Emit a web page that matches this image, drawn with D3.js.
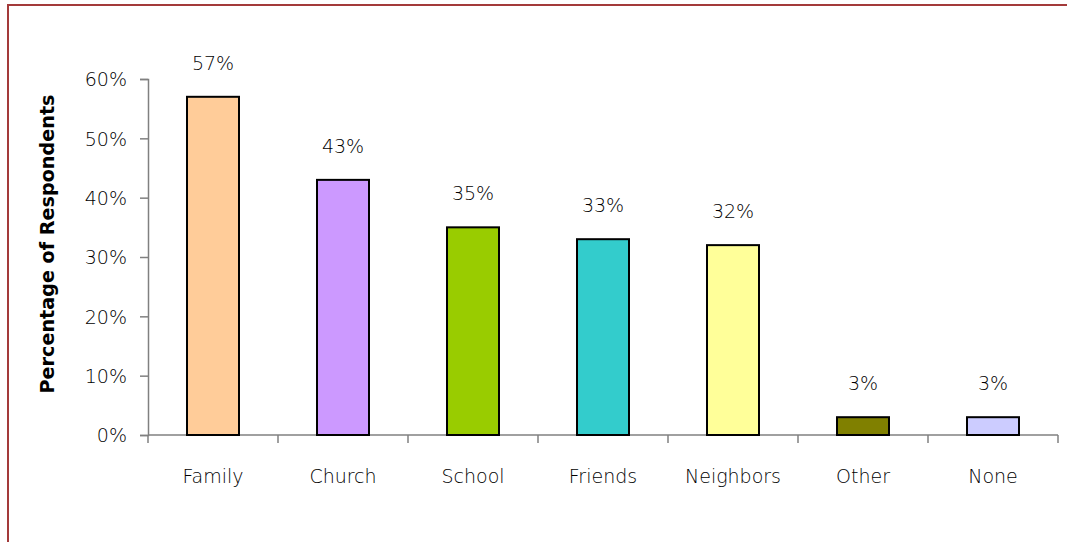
<!DOCTYPE html>
<html><head><meta charset="utf-8">
<script src="https://cdn.jsdelivr.net/npm/d3@7"></script>
<style>body{margin:0;background:#fff}svg{display:block}text{font-family:"DejaVu Sans",sans-serif;fill:#000}</style>
</head><body>
<svg id="c" width="1067" height="542"></svg>
<script>
const categories = ["Family","Church","School","Friends","Neighbors","Other","None"];
const values = [57,43,35,33,32,3,3];
const colors = ["#FFCC99","#CC99FF","#99CC00","#33CCCC","#FFFF99","#808000","#CCCCFF"];
const yTicks = [0,10,20,30,40,50,60];

const svg = d3.select("#c");
svg.append("rect").attr("x",8).attr("y",5).attr("width",1070).attr("height",560)
  .attr("fill","none").attr("stroke","#a33a3a").attr("stroke-width",2);

const m = {left:148, right:1058, top:79, bottom:435};
const x = d3.scaleBand().domain(categories).range([m.left,m.right]).paddingInner(0.6).paddingOuter(0.3);
const xb = d3.scaleBand().domain(categories).range([m.left,m.right]);
const y = d3.scaleLinear().domain([0,60]).range([m.bottom,m.top]);
const FW = 200;

// y axis
const ya = svg.append("g").attr("transform",`translate(${m.left},0)`)
  .call(d3.axisLeft(y).tickValues(yTicks).tickFormat(d=>d+"%").tickSize(8).tickPadding(13));
ya.select(".domain").attr("stroke","#808080").attr("stroke-width",1.5);
ya.selectAll(".tick line").attr("stroke","#808080").attr("stroke-width",1.5);
ya.selectAll(".tick text").attr("font-size",19).attr("font-family","'DejaVu Sans',sans-serif")
  .attr("font-weight",FW).attr("dy","0.36em");

// x axis line and ticks between categories
const xa = svg.append("g");
xa.append("line").attr("x1",m.left).attr("x2",m.right).attr("y1",m.bottom).attr("y2",m.bottom)
  .attr("stroke","#808080").attr("stroke-width",1.5);
const bounds = categories.map(c=>xb(c)).concat([xb(categories[categories.length-1])+xb.bandwidth()]);
xa.selectAll("line.t").data(bounds).join("line").attr("class","t")
  .attr("x1",d=>d).attr("x2",d=>d).attr("y1",m.bottom).attr("y2",m.bottom+8)
  .attr("stroke","#808080").attr("stroke-width",1.5);

// bars
svg.selectAll("rect.bar").data(values).join("rect").attr("class","bar")
  .attr("x",(d,i)=>x(categories[i])).attr("width",x.bandwidth())
  .attr("y",d=>y(d)).attr("height",d=>y(0)-y(d))
  .attr("fill",(d,i)=>colors[i]).attr("stroke","#000").attr("stroke-width",2);

// value labels
svg.selectAll("text.val").data(values).join("text").attr("class","val")
  .attr("x",(d,i)=>x(categories[i])+x.bandwidth()/2).attr("y",d=>y(d)-27)
  .attr("text-anchor","middle").attr("font-size",19).attr("font-weight",FW).text(d=>d+"%");

// category labels
svg.selectAll("text.cat").data(categories).join("text").attr("class","cat")
  .attr("x",d=>xb(d)+xb.bandwidth()/2).attr("y",483)
  .attr("text-anchor","middle").attr("font-size",19).attr("font-weight",FW).text(d=>d);

// y title
svg.append("text").attr("transform","translate(54,244) rotate(-90)")
  .attr("text-anchor","middle").attr("font-size",20).attr("font-weight","bold")
  .attr("textLength",299).attr("lengthAdjust","spacingAndGlyphs")
  .text("Percentage of Respondents");
</script>
</body></html>
